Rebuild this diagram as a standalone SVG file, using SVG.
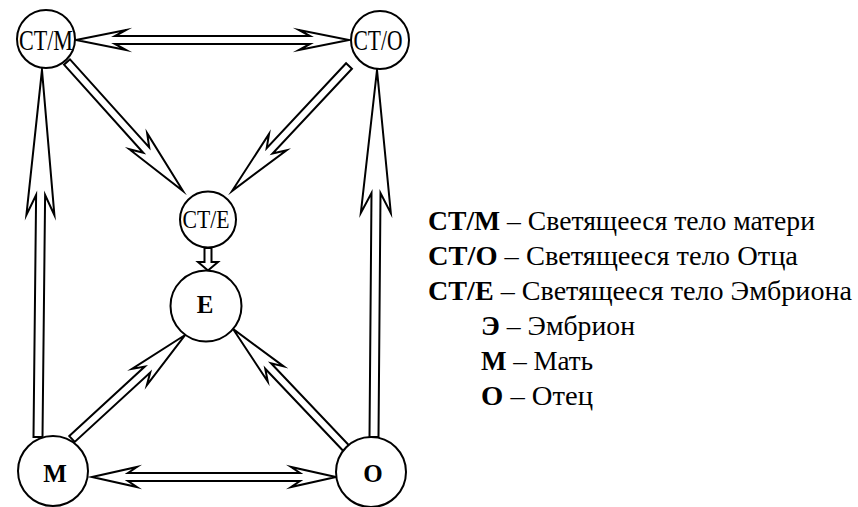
<svg xmlns="http://www.w3.org/2000/svg" width="858" height="507" viewBox="0 0 858 507">
<style>
.arrow{fill:#fff;stroke:#000;stroke-width:2;stroke-linejoin:miter;stroke-miterlimit:20}
.node circle{fill:#fff;stroke:#000;stroke-width:2}
.lbl{text-anchor:middle;fill:#000}
.b{font-weight:bold}
</style>
<rect width="858" height="507" fill="#fff"/>
<g id="connectors">
  <g transform="translate(76,40)"><polygon class="arrow" points="0,0 50,-10 39,-4 234,-4 223,-10 273,0 223,10 234,4 39,4 50,10"/></g>
  <g transform="translate(92,477)"><polygon class="arrow" points="0,0 45,-10 36,-4 208,-4 199,-10 244,0 199,10 208,4 36,4 45,10"/></g>
  <g transform="translate(38,437) rotate(-89.38)"><polygon class="arrow" points="0,-4.5 242,-4.5 222,-14 367,0 222,14 242,4.5 0,4.5"/></g>
  <g transform="translate(374,437) rotate(-89.53)"><polygon class="arrow" points="0,-4.5 244,-4.5 224,-15 367,0 224,15 244,4.5 0,4.5"/></g>
  <g transform="translate(67,62) rotate(48.04)"><polygon class="arrow" points="0,-4 118.5,-4 106.5,-12 173.5,0 106.5,12 118.5,4 0,4"/></g>
  <g transform="translate(349,66) rotate(133.1)"><polygon class="arrow" points="0,-4 116.2,-4 104.2,-12 171.2,0 104.2,12 116.2,4 0,4"/></g>
  <g transform="translate(72,439) rotate(-42.6)"><polygon class="arrow" points="0,-4 102.6,-4 91.6,-11 153.6,0 91.6,11 102.6,4 0,4"/></g>
  <g transform="translate(346,448) rotate(-133.5)"><polygon class="arrow" points="0,-4 113.1,-4 102.1,-11 164.1,0 102.1,11 113.1,4 0,4"/></g>
  <polygon class="arrow" points="204.5,248 211.5,248 211.5,262 218,262 208,270.5 198,262 204.5,262"/>
</g>
<g font-family="'Liberation Serif', serif">
<g id="node-ctm" class="node"><circle cx="46" cy="39" r="29"/><text class="lbl" x="46" y="50" font-size="30" textLength="54" lengthAdjust="spacingAndGlyphs">СТ/М</text></g>
<g id="node-cto" class="node"><circle cx="380" cy="40" r="29"/><text class="lbl" x="378" y="50" font-size="29" textLength="49" lengthAdjust="spacingAndGlyphs">СТ/О</text></g>
<g id="node-cte" class="node"><circle cx="208" cy="219.5" r="28"/><text class="lbl" x="206" y="228" font-size="26" textLength="47" lengthAdjust="spacingAndGlyphs">СТ/Е</text></g>
<g id="node-e" class="node"><circle cx="206" cy="306" r="35.5"/><text class="lbl b" x="205" y="313" font-size="25">Е</text></g>
<g id="node-m" class="node"><circle cx="53" cy="471" r="35"/><text class="lbl b" x="55" y="482" font-size="25">М</text></g>
<g id="node-o" class="node"><circle cx="371" cy="472" r="35"/><text class="lbl b" x="373" y="482" font-size="25">О</text></g>
<g id="legend" font-size="27" fill="#000">
  <text x="428" y="230" textLength="387" lengthAdjust="spacingAndGlyphs"><tspan font-weight="bold">СТ/М</tspan> – Светящееся тело матери</text>
  <text x="428" y="265" textLength="370" lengthAdjust="spacingAndGlyphs"><tspan font-weight="bold">СТ/О</tspan> – Светящееся тело Отца</text>
  <text x="428" y="300" textLength="424" lengthAdjust="spacingAndGlyphs"><tspan font-weight="bold">СТ/Е</tspan> – Светящееся тело Эмбриона</text>
  <text x="481" y="335" textLength="154" lengthAdjust="spacingAndGlyphs"><tspan font-weight="bold">Э</tspan> – Эмбрион</text>
  <text x="481" y="370" textLength="112" lengthAdjust="spacingAndGlyphs"><tspan font-weight="bold">М</tspan> – Мать</text>
  <text x="481" y="405" textLength="112" lengthAdjust="spacingAndGlyphs"><tspan font-weight="bold">О</tspan> – Отец</text>
</g>
</g>
</svg>
